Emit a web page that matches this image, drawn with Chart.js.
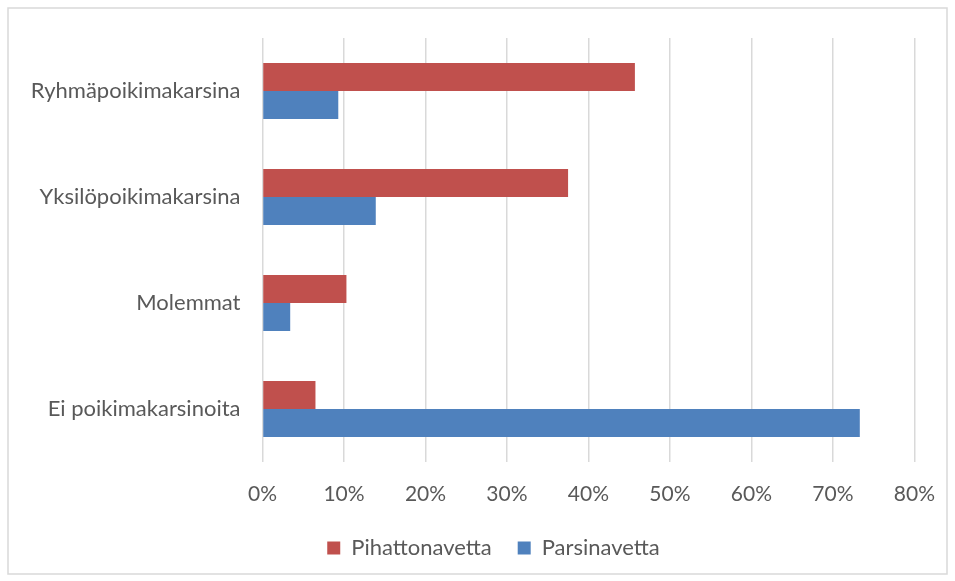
<!DOCTYPE html>
<html>
<head>
<meta charset="utf-8">
<script src="https://cdn.jsdelivr.net/npm/chart.js@4.4.0/dist/chart.umd.min.js"></script>
<style>
  html, body { margin: 0; padding: 0; background: #ffffff; }
  #wrap { position: relative; width: 955px; height: 581px; }
</style>
</head>
<body>
<div id="wrap"><canvas id="plot" width="955" height="581"></canvas></div>
<script>
const categories = [
  "Ryhmäpoikimakarsina",
  "Yksilöpoikimakarsina",
  "Molemmat",
  "Ei poikimakarsinoita",
];
const pihattonavetta = [45.7, 37.5, 10.3, 6.5];
const parsinavetta = [9.3, 13.9, 3.4, 73.3];
const xTicks = [0, 10, 20, 30, 40, 50, 60, 70, 80];

const textColor = "#595959";
const fontFamily = "Lato, 'Open Sans', sans-serif";

// light grey frame round the whole chart, like the Excel chart area
const framePlugin = {
  id: "frame",
  beforeDraw(chart) {
    const ctx = chart.ctx;
    ctx.save();
    ctx.fillStyle = "#ffffff";
    ctx.fillRect(0, 0, chart.width, chart.height);
    ctx.strokeStyle = "#d9d9d9";
    ctx.lineWidth = 1.5;
    ctx.strokeRect(8, 8, 939, 566);
    ctx.restore();
  },
  // Excel centres the legend a bit further right than Chart.js does
  afterLayout(chart) {
    if (chart.legend) chart.legend.left = 70;
  },
};

const data = {
  labels: categories,
  datasets: [
    {
      label: "Pihattonavetta",
      data: pihattonavetta,
      backgroundColor: "#c0504d",
      borderWidth: 0,
    },
    {
      label: "Parsinavetta",
      data: parsinavetta,
      backgroundColor: "#4f81bd",
      borderWidth: 0,
    },
  ],
};

const config = {
  type: "bar",
  data: data,
  plugins: [framePlugin],
  options: {
    indexAxis: "y",
    responsive: false,
    animation: false,
    barPercentage: 1,
    categoryPercentage: 0.53,
    layout: {
      padding: { top: 38, right: 38, bottom: 12, left: 0 },
    },
    plugins: {
      tooltip: { enabled: false },
      legend: {
        position: "bottom",
        labels: {
          color: textColor,
          font: { family: fontFamily, size: 22 },
          boxWidth: 13,
          boxHeight: 13,
          padding: 26,
        },
      },
    },
    scales: {
      x: {
        type: "linear",
        min: 0,
        max: 80,
        afterBuildTicks: (scale) => {
          scale.ticks = xTicks.map((v) => ({ value: v }));
        },
        afterFit: (scale) => {
          scale.height = 49;
        },
        grid: {
          color: "#d9d9d9",
          lineWidth: 1.5,
          drawTicks: false,
        },
        border: { display: false },
        ticks: {
          color: textColor,
          font: { family: fontFamily, size: 21 },
          padding: 20,
          maxRotation: 0,
          callback: (v) => v + "%",
        },
      },
      y: {
        afterFit: (scale) => {
          scale.width = 262.5;
        },
        grid: { display: false, drawTicks: false },
        border: { display: false },
        ticks: {
          color: textColor,
          font: { family: fontFamily, size: 22 },
          padding: 22,
        },
      },
    },
  },
};

const plot = new Chart(document.getElementById("plot"), config);
</script>
</body>
</html>
